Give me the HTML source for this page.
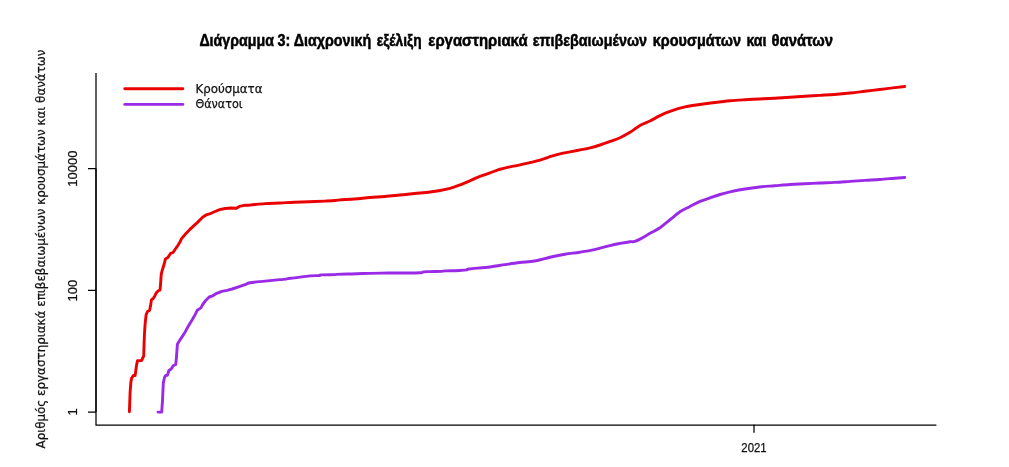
<!DOCTYPE html>
<html><head><meta charset="utf-8"><title>Διάγραμμα 3</title>
<style>
html,body{margin:0;padding:0;background:#fff;}
body{width:1009px;height:467px;overflow:hidden;}
svg{display:block;}
text{font-family:"Liberation Sans",sans-serif;}
.r,.r text{font-family:"DejaVu Sans","Liberation Sans",sans-serif;}
.w{stroke:#111;stroke-width:0.25px;}
</style></head><body>
<svg width="1009" height="467" viewBox="0 0 1009 467">
<rect width="1009" height="467" fill="#fff"/>
<g font-weight="bold" font-size="16.0" fill="#000" stroke="#000" stroke-width="0.5"><text transform="translate(199.40 45.7) scale(0.8893 1)">Διάγραμμα</text><text transform="translate(277.50 45.7) scale(0.8974 1)">3:</text><text transform="translate(293.70 45.7) scale(0.8952 1)">Διαχρονική</text><text transform="translate(376.70 45.7) scale(0.8606 1)">εξέλιξη</text><text transform="translate(428.30 45.7) scale(0.9328 1)">εργαστηριακά</text><text transform="translate(532.70 45.7) scale(0.8967 1)">επιβεβαιωμένων</text><text transform="translate(652.70 45.7) scale(0.9048 1)">κρουσμάτων</text><text transform="translate(746.50 45.7) scale(0.8788 1)">και</text><text transform="translate(771.60 45.7) scale(0.9244 1)">θανάτων</text></g>
<g stroke="#000" stroke-width="1.25" fill="none" stroke-linecap="butt">
<path d="M96 73V425M95.4 425H936.4"/>
<path d="M96 168.5V412"/>
<path d="M88 168.5H96M88 290.25H96M88 412H96M754 425V432.8"/>
<path d="M754 425h0.01" stroke-linecap="round"/>
</g>
<g class="w" font-size="13" fill="#111" text-anchor="middle">
<text transform="translate(76.7 168.7) rotate(-90)">10000</text>
<text transform="translate(76.7 290.6) rotate(-90)">100</text>
<text transform="translate(76.7 412) rotate(-90)">1</text>
<text x="754" y="452" font-size="12.2" textLength="25.3" lengthAdjust="spacingAndGlyphs">2021</text>
</g>
<text class="r w" transform="translate(45 249) rotate(-90)" font-size="11.9" fill="#111" text-anchor="middle">Αριθμός εργαστηριακά επιβεβαιωμένων κρουσμάτων και θανάτων</text>
<g fill="none" stroke-width="2.9" stroke-linejoin="round" stroke-linecap="round">
<path stroke="#ea0000" d="M129.4 411.8L130.1 392.4L130.9 382L131.6 378.2L133.3 375.4L135.1 375.6L136.5 365.5L137.5 360.6L141.5 360.6L143.7 356L144 346L144.4 335L145.1 324L146.1 314.8L147.5 311.5L149.5 310.5L150.6 305.6L151.4 299.9L153.2 298.5L154.9 295.7L156.3 292.8L158.4 290.7L160 290.2L160.5 284.8L161.2 274.6L162.1 270.7L164.1 264.3L165.4 259.1L167.9 257.6L170.5 253.4L173.1 252.5L175 249.5L176.9 246.9L180.1 241.8L181.4 238.9L185.5 234L189.4 229.9L193.4 226.1L197.8 222.1L202.6 217.3L206.4 214.8L210.2 213.7L213.9 212L219.6 209.7L225.2 208.5L230.9 208L236.5 208.3L239.4 206.4L244.1 205.4C245.87 205.18 246.52 205.40 250 205.1C253.48 204.80 260.00 203.95 265 203.6C270.00 203.25 275.17 203.23 280 203C284.83 202.77 289.17 202.40 294 202.2C298.83 202.00 303.85 201.98 309 201.8C314.15 201.62 320.48 201.32 324.9 201.1C329.32 200.88 333.03 200.71 335.5 200.5C337.97 200.29 336.52 200.11 339.7 199.85C342.88 199.59 349.55 199.34 354.6 198.95C359.65 198.56 364.95 197.91 370 197.5C375.05 197.09 379.95 196.91 384.9 196.5C389.85 196.09 394.75 195.54 399.7 195.05C404.65 194.56 409.55 194.06 414.6 193.55C419.65 193.04 425.77 192.50 430 192C434.23 191.50 436.67 191.16 440 190.55C443.33 189.94 446.67 189.28 450 188.35C453.33 187.42 456.67 186.22 460 184.95C463.33 183.68 467.50 181.84 470 180.75C472.50 179.66 473.33 179.12 475 178.4C476.67 177.68 477.50 177.32 480 176.4C482.50 175.48 486.67 174.09 490 172.9C493.33 171.71 496.67 170.26 500 169.25C503.33 168.24 506.67 167.57 510 166.85C513.33 166.13 516.67 165.65 520 164.95C523.33 164.25 526.67 163.45 530 162.65C533.33 161.85 536.67 161.14 540 160.15C543.33 159.16 546.67 157.74 550 156.7C553.33 155.66 556.67 154.71 560 153.9C563.33 153.09 566.67 152.51 570 151.85C573.33 151.19 576.67 150.60 580 149.95C583.33 149.30 586.67 148.77 590 147.95C593.33 147.12 596.67 146.09 600 145C603.33 143.91 606.67 142.62 610 141.4C613.33 140.18 616.67 139.22 620 137.7C623.33 136.18 626.67 134.35 630 132.3C633.33 130.25 636.67 127.28 640 125.4C643.33 123.52 646.67 122.63 650 121C653.33 119.37 656.67 117.20 660 115.6C663.33 114.00 665.85 112.84 670 111.4C674.15 109.96 679.95 108.09 684.9 106.95C689.85 105.81 694.75 105.28 699.7 104.55C704.65 103.82 709.55 103.17 714.6 102.55C719.65 101.92 724.95 101.27 730 100.8C735.05 100.33 739.95 100.06 744.9 99.75C749.85 99.44 754.75 99.20 759.7 98.95C764.65 98.70 769.55 98.53 774.6 98.25C779.65 97.97 784.95 97.58 790 97.25C795.05 96.92 799.95 96.57 804.9 96.25C809.85 95.93 814.75 95.65 819.7 95.35C824.65 95.05 829.55 94.83 834.6 94.45C839.65 94.07 844.95 93.58 850 93.05C855.05 92.52 859.95 91.85 864.9 91.25C869.85 90.65 874.75 90.05 879.7 89.45C884.65 88.85 890.43 88.15 894.6 87.65C898.77 87.15 903.02 86.65 904.7 86.45"/>
<path stroke="#9a2ae6" d="M158 412.1L161.7 412.1L162.5 400.5L163.3 383L164.5 377.5L165.7 375.4L167.4 375.2L168.9 370.5L171.2 369L173.2 365.8L175.7 364.5L176.4 358L177.4 344.2L180.2 339.6L183 335.4L185.7 330.9L188.4 326L192.5 319.3L195.3 314.4L197.3 310.2L200.9 307.9L203 304L205.7 300.5L209.2 297L212.8 295.8L216.7 293.3L221.8 291.3L227 290.3L232.1 289L238.5 286.9L245 284.7C246.92 284.00 246.68 283.29 250 282.7C253.32 282.11 259.95 281.66 264.9 281.15C269.85 280.64 276.18 279.99 279.7 279.65C283.22 279.31 284.52 279.30 286 279.1C287.48 278.90 287.17 278.66 288.6 278.45C290.03 278.24 291.03 278.28 294.6 277.85C298.17 277.43 305.85 276.29 310 275.9C314.15 275.51 317.67 275.68 319.5 275.5C321.33 275.32 318.42 275.00 321 274.85C323.58 274.70 332.50 274.68 335 274.6C337.50 274.52 333.23 274.46 336 274.35C338.77 274.24 345.93 274.12 351.6 273.95C357.27 273.78 363.97 273.50 370 273.35C376.03 273.20 381.85 273.10 387.8 273.05C393.75 273.00 400.25 273.10 405.7 273.05C411.15 273.00 417.53 272.95 420.5 272.75C423.47 272.55 421.92 272.04 423.5 271.85C425.08 271.66 426.93 271.68 430 271.6C433.07 271.52 439.42 271.47 441.9 271.35C444.38 271.23 441.93 271.05 444.9 270.9C447.87 270.75 456.03 270.62 459.7 270.45C463.37 270.27 465.32 270.10 466.9 269.85C468.48 269.60 465.35 269.43 469.2 268.95C473.05 268.47 484.05 267.72 490 267C495.95 266.28 499.95 265.39 504.9 264.65C509.85 263.91 514.75 263.15 519.7 262.55C524.65 261.95 529.55 261.93 534.6 261.05C539.65 260.17 544.95 258.38 550 257.25C555.05 256.12 559.95 255.09 564.9 254.25C569.85 253.41 574.75 252.98 579.7 252.2C584.65 251.42 589.55 250.66 594.6 249.55C599.65 248.44 605.77 246.57 610 245.55C614.23 244.53 616.67 244.08 620 243.45C623.33 242.82 627.67 242.06 630 241.75C632.33 241.44 632.33 242.04 634 241.6C635.67 241.16 637.33 240.47 640 239.1C642.67 237.72 646.67 235.24 650 233.35C653.33 231.46 656.67 230.02 660 227.75C663.33 225.48 666.67 222.42 670 219.75C673.33 217.08 676.67 213.96 680 211.75C683.33 209.54 686.67 208.22 690 206.5C693.33 204.78 696.67 202.89 700 201.45C703.33 200.01 706.67 199.01 710 197.85C713.33 196.69 716.67 195.50 720 194.5C723.33 193.50 725.85 192.78 730 191.85C734.15 190.92 739.95 189.77 744.9 188.95C749.85 188.13 754.75 187.48 759.7 186.95C764.65 186.42 769.55 186.16 774.6 185.75C779.65 185.34 784.95 184.83 790 184.5C795.05 184.17 799.95 184.01 804.9 183.75C809.85 183.49 814.75 183.18 819.7 182.95C824.65 182.72 829.55 182.62 834.6 182.35C839.65 182.08 844.95 181.68 850 181.35C855.05 181.02 859.95 180.67 864.9 180.35C869.85 180.03 874.75 179.80 879.7 179.45C884.65 179.10 890.43 178.58 894.6 178.25C898.77 177.92 903.02 177.58 904.7 177.45"/>
<path stroke="#ea0000" d="M124.8 88.7H182.8"/>
<path stroke="#9a2ae6" d="M124.8 104.4H182.8"/>
</g>
<g class="r w" font-size="11.8" fill="#111">
<text x="195.5" y="92.8">Κρούσματα</text>
<text x="195.5" y="107.7" textLength="47" lengthAdjust="spacingAndGlyphs">Θάνατοι</text>
</g>
</svg>
</body></html>
